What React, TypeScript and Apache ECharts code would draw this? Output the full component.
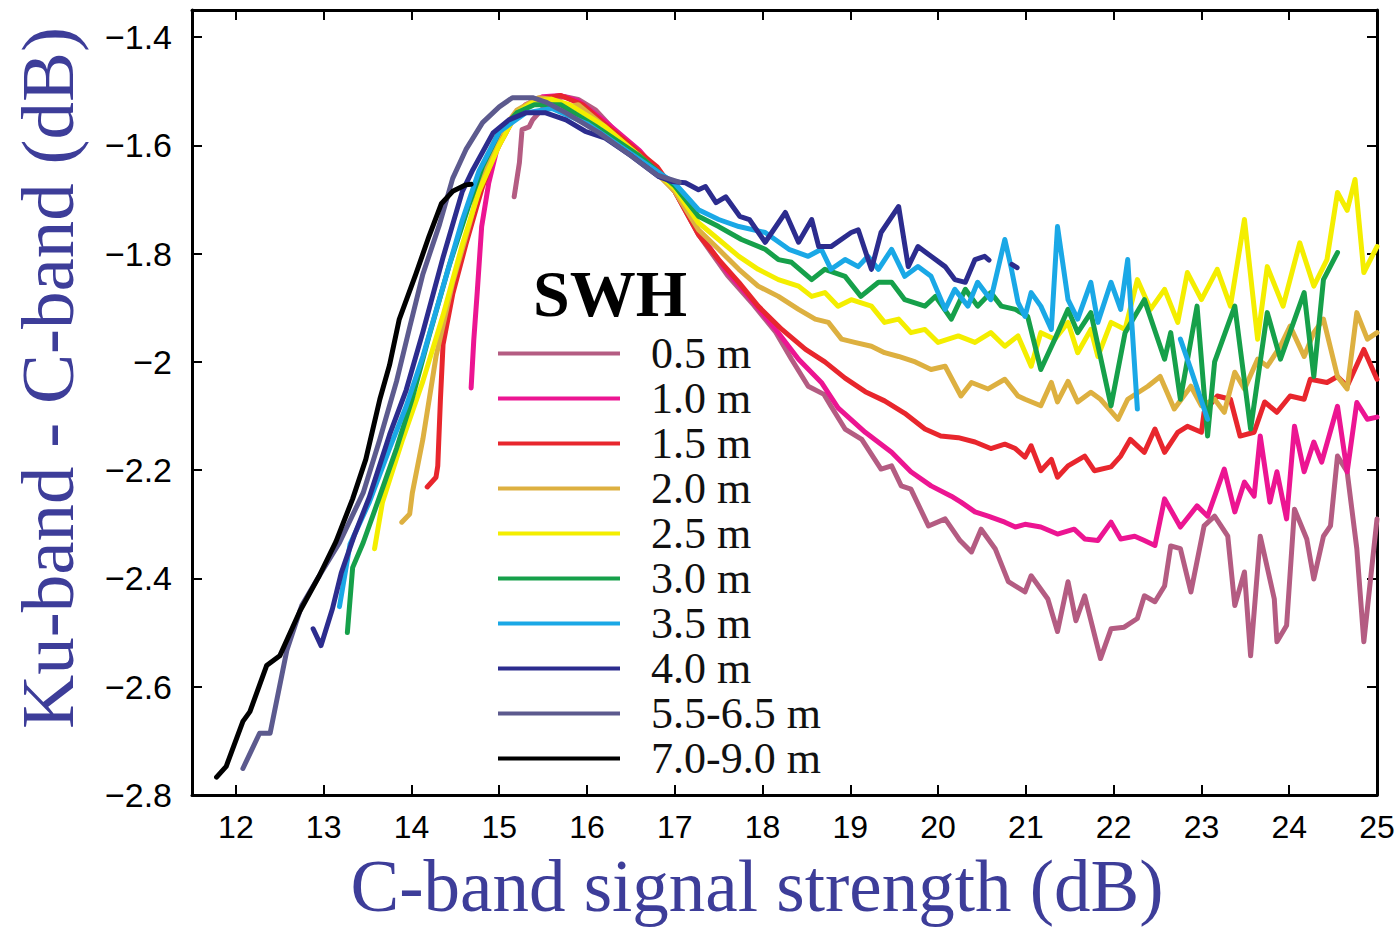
import React, { useEffect, useRef } from "react";
import * as echarts from "echarts";

// ---------------- data ----------------
const seriesNames = ["0.5 m", "1.0 m", "1.5 m", "2.0 m", "2.5 m", "3.0 m", "3.5 m", "4.0 m", "5.5-6.5 m", "7.0-9.0 m"];
const seriesColors = ["#b45c82", "#ec1592", "#e8262d", "#ddb040", "#f4ee00", "#16a04a", "#1aa8e6", "#2c2c8e", "#5c5a8e", "#000000"];

const xTicks = [12, 13, 14, 15, 16, 17, 18, 19, 20, 21, 22, 23, 24, 25];
const yTicks = [-2.8, -2.6, -2.4, -2.2, -2, -1.8, -1.6, -1.4];

const swh05 = [
  [15.17, -1.695], [15.23, -1.632], [15.26, -1.571], [15.34, -1.566], [15.38, -1.553], [15.45, -1.54], [15.6, -1.515], [15.75, -1.51], [15.9, -1.515], [16.1, -1.535], [16.5, -1.605], [16.8, -1.645], [17.0, -1.685], [17.27, -1.765], [17.6, -1.84], [17.9, -1.895], [18.15, -1.945], [18.33, -1.995], [18.52, -2.045], [18.7, -2.06], [18.78, -2.082], [18.94, -2.124], [19.13, -2.143], [19.35, -2.198], [19.47, -2.192], [19.58, -2.229], [19.69, -2.235], [19.89, -2.303], [20.08, -2.29], [20.25, -2.33], [20.38, -2.351], [20.49, -2.309], [20.65, -2.345], [20.8, -2.406], [20.99, -2.425], [21.06, -2.395], [21.25, -2.438], [21.36, -2.498], [21.48, -2.406], [21.57, -2.478], [21.67, -2.432], [21.85, -2.548], [21.97, -2.493], [22.12, -2.49], [22.27, -2.474], [22.35, -2.432], [22.47, -2.443], [22.58, -2.414], [22.65, -2.34], [22.76, -2.345], [22.88, -2.425], [23.03, -2.303], [23.15, -2.285], [23.3, -2.322], [23.38, -2.45], [23.49, -2.388], [23.56, -2.543], [23.67, -2.322], [23.83, -2.438], [23.86, -2.517], [23.97, -2.487], [24.06, -2.272], [24.2, -2.327], [24.28, -2.401], [24.39, -2.322], [24.47, -2.303], [24.55, -2.174], [24.66, -2.203], [24.77, -2.345], [24.85, -2.517], [25.0, -2.29],
];
const swh10 = [
  [14.68, -2.048], [14.71, -1.96], [14.75, -1.87], [14.8, -1.75], [14.88, -1.67], [14.97, -1.61], [15.11, -1.558], [15.3, -1.525], [15.5, -1.51], [15.7, -1.508], [15.9, -1.518], [16.2, -1.555], [16.6, -1.61], [17.0, -1.685], [17.27, -1.76], [17.58, -1.83], [17.84, -1.879], [18.15, -1.94], [18.41, -1.995], [18.67, -2.038], [18.86, -2.085], [19.17, -2.13], [19.47, -2.167], [19.69, -2.203], [19.92, -2.229], [20.15, -2.248], [20.26, -2.259], [20.42, -2.277], [20.57, -2.285], [20.76, -2.296], [20.88, -2.305], [20.99, -2.3], [21.17, -2.305], [21.36, -2.318], [21.55, -2.309], [21.67, -2.327], [21.82, -2.33], [21.97, -2.296], [22.08, -2.327], [22.24, -2.322], [22.35, -2.33], [22.47, -2.339], [22.58, -2.253], [22.76, -2.305], [22.95, -2.266], [23.07, -2.285], [23.26, -2.198], [23.38, -2.277], [23.49, -2.222], [23.6, -2.248], [23.67, -2.137], [23.78, -2.259], [23.86, -2.203], [23.97, -2.29], [24.06, -2.119], [24.17, -2.203], [24.28, -2.148], [24.37, -2.185], [24.55, -2.082], [24.66, -2.203], [24.77, -2.075], [24.89, -2.106], [25.0, -2.102],
];
const swh15 = [
  [14.18, -2.231], [14.28, -2.213], [14.3, -2.192], [14.33, -2.07], [14.36, -1.968], [14.47, -1.875], [14.62, -1.783], [14.81, -1.676], [14.97, -1.608], [15.2, -1.54], [15.45, -1.515], [15.7, -1.508], [15.95, -1.525], [16.2, -1.56], [16.5, -1.6], [16.8, -1.64], [17.0, -1.685], [17.27, -1.765], [17.5, -1.811], [17.73, -1.853], [17.95, -1.897], [18.22, -1.94], [18.49, -1.977], [18.71, -2.0], [18.94, -2.03], [19.17, -2.055], [19.39, -2.072], [19.62, -2.095], [19.85, -2.124], [20.03, -2.137], [20.23, -2.14], [20.42, -2.148], [20.6, -2.16], [20.76, -2.152], [20.88, -2.16], [20.99, -2.176], [21.06, -2.155], [21.17, -2.201], [21.29, -2.18], [21.36, -2.213], [21.48, -2.192], [21.67, -2.174], [21.78, -2.201], [21.97, -2.194], [22.08, -2.174], [22.19, -2.143], [22.35, -2.167], [22.47, -2.124], [22.58, -2.167], [22.73, -2.13], [22.84, -2.119], [23.0, -2.13], [23.03, -2.093], [23.18, -2.063], [23.33, -2.069], [23.44, -2.137], [23.6, -2.13], [23.72, -2.074], [23.86, -2.093], [24.01, -2.063], [24.17, -2.069], [24.24, -2.032], [24.43, -2.038], [24.55, -2.027], [24.66, -2.045], [24.85, -1.977], [25.0, -2.032],
];
const swh20 = [
  [13.89, -2.296], [13.98, -2.281], [14.01, -2.242], [14.13, -2.143], [14.28, -1.99], [14.47, -1.853], [14.66, -1.746], [14.81, -1.654], [15.0, -1.58], [15.2, -1.535], [15.45, -1.512], [15.6, -1.515], [15.75, -1.53], [15.9, -1.525], [16.2, -1.565], [16.6, -1.62], [17.0, -1.685], [17.27, -1.756], [17.5, -1.792], [17.73, -1.829], [17.95, -1.86], [18.18, -1.879], [18.41, -1.903], [18.6, -1.921], [18.75, -1.927], [18.9, -1.958], [19.05, -1.964], [19.24, -1.971], [19.39, -1.983], [19.55, -1.99], [19.74, -2.0], [19.92, -2.014], [20.08, -2.008], [20.26, -2.063], [20.38, -2.038], [20.57, -2.05], [20.76, -2.032], [20.91, -2.063], [20.99, -2.069], [21.17, -2.081], [21.29, -2.038], [21.36, -2.074], [21.48, -2.036], [21.59, -2.074], [21.74, -2.056], [21.85, -2.069], [22.05, -2.106], [22.16, -2.069], [22.39, -2.045], [22.53, -2.027], [22.69, -2.087], [22.88, -2.045], [23.0, -2.081], [23.15, -2.069], [23.26, -2.093], [23.38, -2.019], [23.49, -2.05], [23.64, -1.995], [23.75, -2.008], [23.9, -1.971], [24.01, -1.934], [24.17, -1.99], [24.28, -1.946], [24.39, -1.921], [24.55, -2.027], [24.66, -2.05], [24.77, -1.909], [24.89, -1.958], [25.0, -1.946],
];
const swh25 = [
  [13.58, -2.345], [13.67, -2.259], [13.9, -2.143], [14.13, -2.036], [14.36, -1.914], [14.58, -1.783], [14.77, -1.685], [15.0, -1.6], [15.2, -1.54], [15.4, -1.518], [15.6, -1.515], [15.8, -1.525], [16.2, -1.565], [16.6, -1.62], [17.0, -1.68], [17.27, -1.743], [17.5, -1.774], [17.73, -1.805], [17.95, -1.829], [18.18, -1.848], [18.41, -1.86], [18.56, -1.879], [18.71, -1.872], [18.86, -1.897], [19.01, -1.885], [19.24, -1.897], [19.39, -1.927], [19.55, -1.921], [19.69, -1.946], [19.85, -1.94], [20.0, -1.964], [20.23, -1.952], [20.42, -1.964], [20.6, -1.946], [20.76, -1.971], [20.91, -1.952], [21.06, -2.008], [21.17, -1.946], [21.33, -1.958], [21.48, -1.927], [21.59, -1.983], [21.74, -1.94], [21.82, -1.99], [21.97, -1.927], [22.13, -1.94], [22.27, -1.848], [22.42, -1.903], [22.58, -1.866], [22.73, -1.927], [22.84, -1.835], [23.0, -1.885], [23.18, -1.829], [23.33, -1.897], [23.49, -1.737], [23.64, -1.958], [23.75, -1.824], [23.93, -1.897], [24.12, -1.78], [24.28, -1.86], [24.43, -1.811], [24.55, -1.687], [24.66, -1.72], [24.75, -1.663], [24.85, -1.835], [25.0, -1.787],
];
const swh30 = [
  [13.27, -2.5], [13.33, -2.38], [13.45, -2.334], [13.6, -2.266], [13.83, -2.16], [14.01, -2.067], [14.2, -1.953], [14.43, -1.822], [14.66, -1.708], [14.81, -1.639], [15.0, -1.575], [15.2, -1.54], [15.4, -1.525], [15.7, -1.525], [16.1, -1.565], [16.6, -1.62], [17.0, -1.675], [17.27, -1.731], [17.5, -1.75], [17.76, -1.774], [18.03, -1.792], [18.18, -1.811], [18.33, -1.816], [18.56, -1.848], [18.71, -1.829], [18.94, -1.842], [19.12, -1.879], [19.32, -1.853], [19.47, -1.853], [19.62, -1.885], [19.85, -1.897], [19.97, -1.879], [20.15, -1.921], [20.31, -1.866], [20.45, -1.897], [20.6, -1.872], [20.72, -1.897], [20.88, -1.903], [21.02, -1.916], [21.17, -2.014], [21.33, -1.958], [21.48, -1.903], [21.59, -1.946], [21.74, -1.909], [21.97, -2.081], [22.13, -1.946], [22.35, -1.885], [22.58, -1.995], [22.65, -1.946], [22.76, -2.069], [22.95, -1.897], [23.07, -2.137], [23.15, -2.0], [23.38, -1.897], [23.56, -2.124], [23.75, -1.909], [23.9, -1.995], [24.17, -1.872], [24.28, -2.027], [24.39, -1.848], [24.55, -1.798],
];
const swh35 = [
  [13.18, -2.452], [13.3, -2.337], [13.52, -2.259], [13.75, -2.16], [13.94, -2.082], [14.13, -1.99], [14.36, -1.861], [14.58, -1.738], [14.77, -1.647], [15.0, -1.575], [15.3, -1.54], [15.6, -1.532], [16.0, -1.56], [16.5, -1.615], [17.0, -1.67], [17.27, -1.719], [17.5, -1.737], [17.73, -1.75], [18.03, -1.761], [18.3, -1.792], [18.52, -1.805], [18.67, -1.792], [18.78, -1.829], [18.94, -1.811], [19.09, -1.824], [19.2, -1.805], [19.32, -1.829], [19.47, -1.792], [19.62, -1.842], [19.77, -1.824], [19.92, -1.842], [20.08, -1.903], [20.19, -1.866], [20.34, -1.897], [20.45, -1.853], [20.6, -1.885], [20.76, -1.774], [20.83, -1.824], [20.91, -1.89], [20.99, -1.916], [21.06, -1.872], [21.17, -1.897], [21.29, -1.94], [21.36, -1.75], [21.48, -1.885], [21.59, -1.921], [21.74, -1.853], [21.82, -1.927], [21.97, -1.853], [22.08, -1.903], [22.16, -1.811], [22.27, -2.087], [22.5, null], [22.76, -1.958], [22.88, -2.014], [23.07, -2.106],
];
const swh40 = [
  [12.88, -2.493], [12.97, -2.524], [13.1, -2.456], [13.2, -2.39], [13.35, -2.32], [13.52, -2.25], [13.75, -2.135], [13.94, -2.052], [14.13, -1.945], [14.36, -1.807], [14.58, -1.685], [14.7, -1.645], [14.93, -1.577], [15.11, -1.553], [15.3, -1.54], [15.53, -1.54], [15.76, -1.553], [15.98, -1.574], [16.2, -1.586], [16.51, -1.62], [16.82, -1.658], [16.97, -1.667], [17.12, -1.669], [17.27, -1.682], [17.35, -1.676], [17.47, -1.706], [17.58, -1.695], [17.74, -1.731], [17.85, -1.737], [18.03, -1.779], [18.26, -1.724], [18.41, -1.779], [18.56, -1.737], [18.64, -1.787], [18.78, -1.787], [19.01, -1.761], [19.09, -1.756], [19.24, -1.829], [19.35, -1.761], [19.55, -1.713], [19.66, -1.824], [19.77, -1.787], [19.92, -1.805], [20.08, -1.824], [20.19, -1.848], [20.31, -1.853], [20.42, -1.811], [20.53, -1.805], [20.58, -1.812], [20.7, null], [20.84, -1.82], [20.9, -1.826],
];
const swh55 = [
  [12.08, -2.751], [12.27, -2.686], [12.39, -2.686], [12.58, -2.533], [12.75, -2.45], [12.95, -2.395], [13.18, -2.334], [13.45, -2.242], [13.64, -2.143], [13.83, -2.036], [13.98, -1.936], [14.13, -1.838], [14.32, -1.746], [14.47, -1.661], [14.62, -1.608], [14.81, -1.558], [15.0, -1.529], [15.15, -1.512], [15.38, -1.512], [15.53, -1.52], [15.76, -1.54], [16.14, -1.577], [16.51, -1.62], [16.8, -1.655], [17.05, -1.668],
];
const swh70 = [
  [11.78, -2.767], [11.89, -2.747], [12.08, -2.664], [12.16, -2.646], [12.35, -2.561], [12.5, -2.543], [12.73, -2.46], [12.95, -2.395], [13.14, -2.332], [13.33, -2.253], [13.48, -2.18], [13.64, -2.069], [13.75, -2.006], [13.86, -1.922], [14.05, -1.838], [14.2, -1.768], [14.34, -1.708], [14.47, -1.685], [14.62, -1.673], [14.68, -1.672],
];

const seriesData = [swh05, swh10, swh15, swh20, swh25, swh30, swh35, swh40, swh55, swh70];

const X_MIN = 11.5;
const X_MAX = 25;
const Y_MIN = -2.8;
const Y_MAX = -1.35;

const titleColor = "#3d3d99";
const serif = "'Liberation Serif', 'Times New Roman', serif";
const sans = "'Liberation Sans', Arial, sans-serif";

export default function App() {
  const ref = useRef<HTMLDivElement>(null);

  useEffect(() => {
    if (!ref.current) return;
    const chart = echarts.init(ref.current, undefined, { renderer: "svg" });

    const frameLine = { show: true, onZero: false, lineStyle: { color: "#000", width: 3 } };
    const tickStyle = { inside: true, length: 10, lineStyle: { color: "#000", width: 2 } };

    const option: any = {
      animation: false,
      backgroundColor: "#ffffff",
      grid: { left: 192, right: 23, top: 10, bottom: 132, outerBoundsMode: "none" },
      xAxis: [
        {
          type: "value", min: X_MIN, max: X_MAX, position: "bottom",
          axisLine: frameLine,
          axisTick: { ...tickStyle, customValues: xTicks },
          axisLabel: { customValues: xTicks, fontSize: 32, lineHeight: 30, color: "#000", margin: 17, fontFamily: sans },
          splitLine: { show: false },
        },
        {
          type: "value", min: X_MIN, max: X_MAX, position: "top",
          axisLine: frameLine,
          axisTick: { ...tickStyle, customValues: xTicks },
          axisLabel: { show: false },
          splitLine: { show: false },
        },
      ],
      yAxis: [
        {
          type: "value", min: Y_MIN, max: Y_MAX, position: "left",
          axisLine: frameLine,
          axisTick: { ...tickStyle, customValues: yTicks },
          axisLabel: {
            customValues: yTicks, fontSize: 34, lineHeight: 30, color: "#000", margin: 20, fontFamily: sans,
            formatter: (v: number) => String(Math.round(v * 10) / 10).replace("-", "\u2212"),
          },
          splitLine: { show: false },
        },
        {
          type: "value", min: Y_MIN, max: Y_MAX, position: "right",
          axisLine: frameLine,
          axisTick: { ...tickStyle, customValues: yTicks },
          axisLabel: { show: false },
          splitLine: { show: false },
        },
      ],
      legend: {
        orient: "vertical",
        left: 498,
        top: 331,
        padding: 0,
        itemGap: 0,
        itemWidth: 122,
        itemHeight: 4,
        icon: "rect",
        data: seriesNames,
        textStyle: { fontFamily: serif, fontSize: 44, color: "#111", lineHeight: 45, padding: [0, 0, 0, 26] },
      },
      graphic: [
        {
          type: "text", x: 533, y: 293,
          style: { text: "SWH", fontFamily: serif, fontWeight: "bold", fontSize: 66, fill: "#000", align: "left", verticalAlign: "middle" },
        },
        {
          type: "text", x: 757, y: 886,
          style: { text: "C-band signal strength (dB)", fontFamily: serif, fontSize: 73, lineHeight: 56, fill: titleColor, align: "center", verticalAlign: "middle" },
        },
        {
          type: "text", x: 47, y: 378, rotation: Math.PI / 2,
          style: { text: "Ku-band - C-band (dB)", fontFamily: serif, fontSize: 75, lineHeight: 56, fill: titleColor, align: "center", verticalAlign: "middle" },
        },
      ],
      series: seriesNames.map((name, i) => ({
        name,
        type: "line",
        xAxisIndex: 0,
        yAxisIndex: 0,
        data: seriesData[i],
        showSymbol: false,
        symbol: "none",
        connectNulls: false,
        color: seriesColors[i],
        lineStyle: { color: seriesColors[i], width: 5, join: "round", cap: "round" },
        itemStyle: { color: seriesColors[i] },
        emphasis: { disabled: true },
        z: 2 + i,
      })),
    };

    chart.setOption(option);
    return () => chart.dispose();
  }, []);

  return <div ref={ref} style={{ position: "absolute", left: 0, top: 0, width: 1400, height: 927 }} />;
}
